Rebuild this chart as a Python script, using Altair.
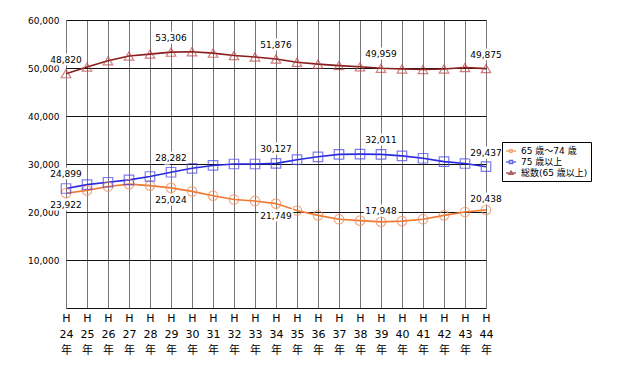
import altair as alt
import pandas as pd

years = list(range(24, 45))
series_names = ["65 歳～74 歳", "75 歳以上", "総数(65 歳以上)"]
age_65_74 = [23922, 24500, 25300, 25800, 25500, 25024, 24300, 23400, 22600, 22300,
             21749, 20300, 19300, 18500, 18200, 17948, 18100, 18500, 19300, 20000, 20438]
age_75_up = [24899, 25700, 26200, 26700, 27400, 28282, 29100, 29700, 30000, 30000,
             30127, 30900, 31500, 32000, 32050, 32011, 31700, 31200, 30500, 30100, 29437]
total = [48820, 50200, 51500, 52500, 52900, 53306, 53400, 53100, 52600, 52300,
         51876, 51200, 50800, 50500, 50250, 49959, 49800, 49700, 49800, 50100, 49875]
label_years = [24, 29, 34, 39, 44]

rows = []
for name, vals in zip(series_names, [age_65_74, age_75_up, total]):
    for y, v in zip(years, vals):
        rows.append({"year": y, "series": name, "value": v})
df = pd.DataFrame(rows)

line_colors = ["#F07830", "#2828E0", "#8B1C1C"]
marker_colors = ["#F08C58", "#4646EA", "#C04848"]
font = "DejaVu Sans, Noto Sans CJK JP"

legend_paths = [
    "M-1,0H-0.3M0.3,0H1M-0.3,0A0.3,0.3 0 1,0 0.3,0A0.3,0.3 0 1,0 -0.3,0",
    "M-1,0H-0.3M0.3,0H1M-0.3,-0.3H0.3V0.3H-0.3Z",
    "M-1,0H-0.32M0.32,0H1M0,-0.35L0.35,0.25H-0.35Z",
]

x_axis = alt.Axis(
    values=years, title=None, grid=True, gridColor="#777777", gridWidth=1,
    domain=False, ticks=False, labelExpr="['H', datum.value, '年']",
    labelFont=font, labelFontSize=11, labelColor="#000", labelPadding=4,
    labelLineHeight=16, labelBaseline="top", labelFlush=False, labelOverlap=False,
)
y_axis = alt.Axis(
    values=[0, 10000, 20000, 30000, 40000, 50000, 60000], title=None,
    grid=True, gridColor="#111", gridWidth=1, domain=False, ticks=False,
    labelExpr="datum.value == 0 ? '' : format(datum.value, ',')",
    labelFont=font, labelFontSize=9, labelColor="#000", labelPadding=7,
)
x_enc = alt.X("year:Q", scale=alt.Scale(domain=[24, 44], nice=False, zero=False), axis=x_axis)
y_enc = alt.Y("value:Q", scale=alt.Scale(domain=[0, 60000], nice=False), axis=y_axis)

base = alt.Chart(df)

lines = base.mark_line(strokeWidth=1.6).encode(
    x=x_enc, y=y_enc,
    color=alt.Color("series:N", scale=alt.Scale(domain=series_names, range=line_colors), legend=None),
)

points = base.mark_point(filled=False, size=90, strokeWidth=1.2).encode(
    x=x_enc, y=y_enc,
    color=alt.Color("series:N", scale=alt.Scale(domain=series_names, range=marker_colors), legend=None),
    shape=alt.Shape("series:N", scale=alt.Scale(domain=series_names,
                                                 range=["circle", "square", "triangle-up"]), legend=None),
)

legend_kw = dict(
    title=None, orient="none", legendX=436, legendY=122,
    strokeColor="#000", fillColor="#fff", padding=3, rowPadding=0,
    labelFont=font, labelFontSize=9, labelColor="#000",
    symbolSize=100, symbolStrokeWidth=1.6,
)
legend_layer = base.transform_filter(alt.datum.year < 0).mark_point(
    filled=False, size=100, strokeWidth=1.6).encode(
    x=x_enc, y=y_enc,
    color=alt.Color("series:N", scale=alt.Scale(domain=series_names, range=line_colors),
                    sort=series_names, legend=alt.Legend(**legend_kw)),
    shape=alt.Shape("series:N", scale=alt.Scale(domain=series_names, range=legend_paths),
                    sort=series_names, legend=alt.Legend(**legend_kw)),
)

lab = base.transform_filter(alt.FieldOneOfPredicate(field="year", oneOf=label_years))

def text_layer(data, dy):
    halo = data.mark_text(dy=dy, font=font, fontSize=9, stroke="white", strokeWidth=5,
                          color="white").encode(
        x=x_enc, y=y_enc, text=alt.Text("value:Q", format=","))
    txt = data.mark_text(dy=dy, font=font, fontSize=9, color="#000").encode(
        x=x_enc, y=y_enc, text=alt.Text("value:Q", format=","))
    return [halo, txt]

t_total = text_layer(lab.transform_filter(alt.datum.series == series_names[2]), -14)
t_75 = text_layer(lab.transform_filter(alt.datum.series == series_names[1]), -14)
t_65a = text_layer(lab.transform_filter((alt.datum.series == series_names[0]) & (alt.datum.year < 36)), 12)
t_65b = text_layer(lab.transform_filter((alt.datum.series == series_names[0]) & (alt.datum.year > 36)), -11)

chart = alt.layer(
    lines, points, *t_total, *t_75, *t_65a, *t_65b, legend_layer,
).resolve_scale(color="independent", shape="independent").properties(
    width=420, height=288,
    autosize=alt.AutoSizeParams(type="none"),
    padding={"left": 58, "top": 12, "right": 126, "bottom": 49},
).configure_view(stroke="#9a9a9a", strokeWidth=1.5).configure(background="white")

chart.save("out.html", embed_options={"renderer": "svg", "actions": False})
